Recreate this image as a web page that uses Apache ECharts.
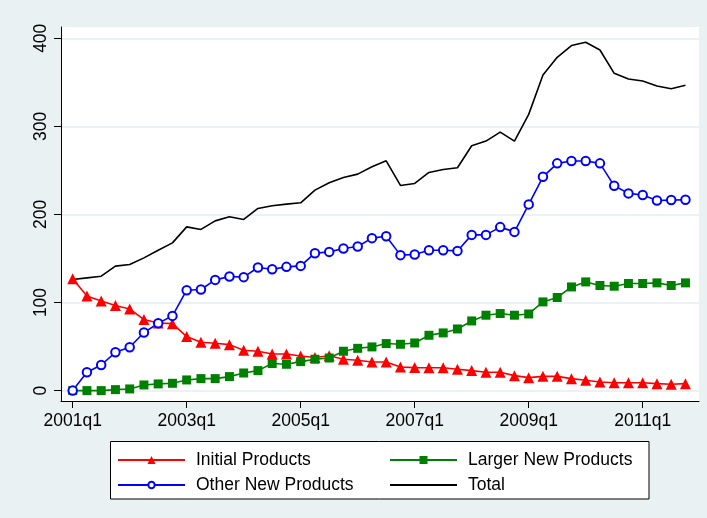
<!DOCTYPE html>
<html>
<head>
<meta charset="utf-8">
<script src="https://cdn.jsdelivr.net/npm/echarts@6/dist/echarts.min.js"></script>
<style>
  html, body { margin: 0; padding: 0; background: #EAF1F3; }
  #chart { width: 707px; height: 518px; }
</style>
</head>
<body>
<div id="chart"></div>
<script>
// Quarterly product counts, 2001q1 - 2011q4
const quarters = [];
for (let y = 2001; y <= 2011; y++) for (let q = 1; q <= 4; q++) quarters.push(y + 'q' + q);

const initialProducts = [127, 107.5, 101.8, 96.6, 92.7, 80.7, 76.8, 76, 61.3, 54.9,
  53.7, 52.2, 45.8, 44.7, 41.6, 41.6, 39.3, 37.5, 39.5, 35.6,
  34.4, 32.5, 32.5, 26.8, 26.1, 26, 26, 24.2, 22.7, 20.8,
  20.8, 17, 14.7, 16.2, 16.2, 13.6, 11.7, 9.8, 9, 9,
  9, 7.9, 7.2, 7.9];

const largerNewProducts = [0, 0, 0, 1.1, 1.9, 6.4, 7.6, 8.3, 12.1, 13.6,
  13.6, 15.9, 20, 22.7, 30.7, 29.9, 32.9, 35.6, 37, 44.7,
  48, 49.6, 53.4, 52.6, 54.1, 62.8, 65.5, 70, 79.1, 85.6,
  87.5, 85.6, 87, 100.7, 105.7, 117.7, 123.4, 119.3, 118.5, 121.6,
  121.6, 122.3, 119.3, 122.3];

const otherNewProducts = [0, 20.8, 29.1, 43.5, 49.2, 65.9, 76.5, 84.8, 114, 114.8,
  125.7, 129.5, 128.8, 139.8, 137.8, 140.5, 141.6, 156, 157.5, 161.4,
  163.6, 173.1, 175.3, 153.8, 154.5, 159.4, 159.4, 158.6, 176.8, 176.8,
  185.6, 180.2, 211.4, 242.7, 258, 260.6, 260.6, 258, 232.5, 223.9,
  222, 215.9, 216.3, 216.6];

const total = [126.1, 128, 129.9, 141.3, 143.2, 150.7, 159.4, 167.7, 185.9, 183,
  192.7, 197.3, 194.3, 206.8, 209.8, 211.7, 213.2, 227.6, 235.9, 242,
  245.8, 254.1, 260.9, 232.9, 235.2, 247.7, 251.1, 253, 278, 283.3,
  293.5, 283.3, 313.6, 358.3, 378.4, 391.7, 395.5, 386.7, 360.2, 353.8,
  351.5, 345.8, 342.7, 346.6];

// Tick positions (quarter indices) and value ticks
const xTickIndex = [0, 8, 16, 24, 32, 40];
const yTicks = [0, 100, 200, 300, 400];

const FONT = 'Liberation Sans, Arial, Helvetica, sans-serif';
const pairs = arr => arr.map((v, i) => [i, v]);

const chart = echarts.init(document.getElementById('chart'), null, { renderer: 'canvas' });

function legendAt(item, left, top, keyHeight) {
  return {
    data: [item],
    left: left, top: top,
    orient: 'horizontal',
    itemWidth: 67, itemHeight: keyHeight || 10,
    padding: 0,
    selectedMode: false,
    textStyle: { fontFamily: FONT, fontSize: 17.5, color: '#000', padding: [0, 0, 0, 6] }
  };
}

chart.setOption({
  backgroundColor: '#EAF1F3',
  animation: false,
  grid: {
    left: 61, top: 27, right: 8, bottom: 117,
    show: true, backgroundColor: '#FFFFFF', borderWidth: 0
  },
  graphic: [{
    type: 'rect', z: -10, silent: true,
    shape: { x: 110.5, y: 441.5, width: 538.5, height: 57.5 },
    style: { fill: '#FFFFFF', stroke: '#000000', lineWidth: 1 }
  }],
  legend: [
    legendAt('Initial Products', 117, 451),
    legendAt('Larger New Products', 389, 451),
    legendAt({ name: 'Other New Products' }, 117, 476, 8),
    // the total line carries no marker, so its key is a plain line
    legendAt({ name: 'Total', itemStyle: { opacity: 0 } }, 389, 476)
  ],
  xAxis: {
    type: 'value', min: -0.82, max: 43.95,
    axisLine: { show: true, onZero: false, lineStyle: { color: '#000', width: 1 } },
    axisTick: { show: true, length: 7, customValues: xTickIndex, lineStyle: { color: '#000' } },
    axisLabel: {
      customValues: xTickIndex, margin: 11,
      fontFamily: FONT, fontSize: 17.5, color: '#000',
      formatter: v => quarters[Math.round(v)] || ''
    },
    splitLine: { show: false }
  },
  yAxis: {
    type: 'value', min: -11.8, max: 412.8,
    axisLine: { show: true, onZero: false, lineStyle: { color: '#000', width: 1 } },
    axisTick: { show: true, length: 7, customValues: yTicks, lineStyle: { color: '#000' } },
    axisLabel: {
      customValues: yTicks, rotate: 90, margin: 11,
      fontFamily: FONT, fontSize: 17.5, color: '#000'
    },
    splitLine: { show: true, lineStyle: { color: '#E6EEF1', width: 1.5 } }
  },
  series: [
    {
      name: 'Initial Products', type: 'line', data: pairs(initialProducts),
      symbol: 'triangle', symbolSize: 11,
      lineStyle: { color: '#FF0000', width: 1.6 },
      itemStyle: { color: '#FF0000' }
    },
    {
      name: 'Larger New Products', type: 'line', data: pairs(largerNewProducts),
      symbol: 'rect', symbolSize: 9,
      lineStyle: { color: '#008000', width: 1.6 },
      itemStyle: { color: '#008000' }
    },
    {
      name: 'Other New Products', type: 'line', data: pairs(otherNewProducts),
      symbol: 'emptyCircle', symbolSize: 8.5,
      lineStyle: { color: '#0000FF', width: 1.6 },
      itemStyle: { color: '#0000FF', borderWidth: 1.5 }
    },
    {
      name: 'Total', type: 'line', data: pairs(total),
      symbol: 'none',
      lineStyle: { color: '#000000', width: 1.6 },
      itemStyle: { color: '#000000' }
    }
  ]
});
</script>
</body>
</html>
